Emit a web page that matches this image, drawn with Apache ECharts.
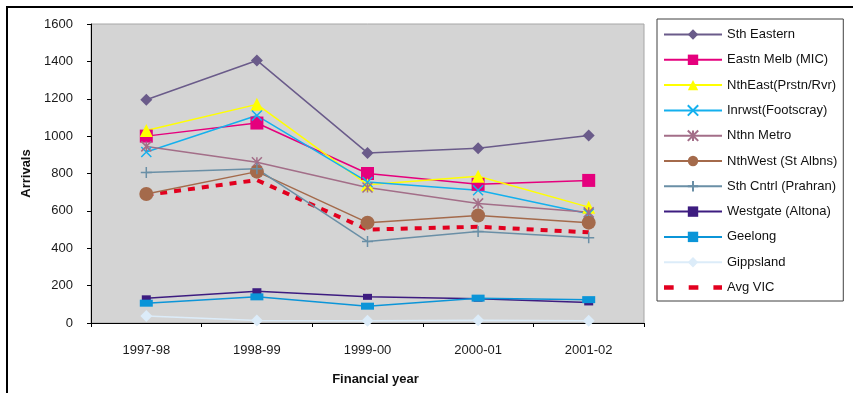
<!DOCTYPE html>
<html>
<head>
<meta charset="utf-8">
<script src="https://cdn.jsdelivr.net/npm/echarts@6/dist/echarts.min.js"></script>
<style>
  html, body { margin: 0; padding: 0; background: #fff; }
  #chart { width: 853px; height: 393px; }
</style>
</head>
<body>
<div id="chart"></div>
<script>
// Arrivals by region per financial year
const years = ['1997-98', '1998-99', '1999-00', '2000-01', '2001-02'];
const yTicks = { min: 0, max: 1600, step: 200 };

const sthEastern   = [1195, 1405, 910, 935, 1003];
const eastnMelb    = [1000, 1070, 800, 742, 763];
const nthEast      = [1030, 1170, 740, 785, 620];
const inrwst       = [915, 1110, 755, 710, 585];
const nthnMetro    = [945, 860, 725, 640, 592];
const nthWest      = [690, 810, 537, 575, 537];
const sthCntrl     = [805, 825, 436, 490, 456];
const westgate     = [132, 170, 140, 130, 110];
const geelong      = [106, 140, 90, 133, 125];
const gippsland    = [38, 13, 12, 15, 12];
const avgVic       = [685, 765, 500, 515, 485];

const FONT = 'Liberation Sans, Arial, sans-serif';

const X_PATH = 'path://M0,0L10,10M10,0L0,10';
const STAR_PATH = 'path://M0,0L10,10M10,0L0,10M5,0L5,10';
const PLUS_PATH = 'path://M5,0L5,10M0,5L10,5';
const SMALL_BAR = 'path://M0,0h9v6h-9z';
const WIDE_BAR = 'path://M0,0h13v7h-13z';
// three short dashes for the average line's legend key
const DASH_KEY = 'path://M0,0h9v4h-9zM23,0h9v4h-9zM46,0h8v4h-8z';

function line(name, data, color, symbol, size, extra) {
  return Object.assign({
    name: name,
    type: 'line',
    data: data,
    symbol: symbol,
    symbolSize: size,
    symbolKeepAspect: true,
    showSymbol: true,
    lineStyle: { color: color, width: 1.5 },
    itemStyle: { color: color, borderColor: color, borderWidth: 0, opacity: 1 },
    emphasis: { disabled: true },
    z: 3
  }, extra || {});
}

const strokeOnly = (color, w) => ({ itemStyle: { color: 'transparent', borderColor: color, borderWidth: w } });

const series = [
  line('Sth Eastern', sthEastern, '#6a5b8a', 'diamond', 12),
  line('Eastn Melb (MIC)', eastnMelb, '#e5007d', 'rect', 13),
  line('NthEast(Prstn/Rvr)', nthEast, '#ffff00', 'triangle', 13),
  line('Inrwst(Footscray)', inrwst, '#14b0ee', X_PATH, 10, strokeOnly('#14b0ee', 1.5)),
  line('Nthn Metro', nthnMetro, '#a36e88', STAR_PATH, 10, strokeOnly('#a36e88', 1.5)),
  line('NthWest (St Albns)', nthWest, '#a46a4b', 'circle', 14),
  line('Sth Cntrl (Prahran)', sthCntrl, '#6a8fa6', PLUS_PATH, 11, strokeOnly('#6a8fa6', 1.5)),
  line('Westgate (Altona)', westgate, '#3d1c80', SMALL_BAR, 9),
  line('Geelong', geelong, '#0b95d8', WIDE_BAR, 13),
  line('Gippsland', gippsland, '#dcecf9', 'diamond', 12),
  line('Avg VIC', avgVic, '#e2001f', 'none', 0, {
    lineStyle: { color: '#e2001f', width: 4, type: [7, 7] },
    z: 2
  })
];

const legendData = series.map(s => s.name === 'Avg VIC'
  ? { name: s.name, icon: DASH_KEY, itemStyle: { color: '#e2001f' } }
  : { name: s.name });

const chart = echarts.init(document.getElementById('chart'), null, { renderer: 'canvas' });
chart.setOption({
  animation: false,
  backgroundColor: '#ffffff',
  textStyle: { fontFamily: FONT },
  grid: {
    left: 91, right: 209, top: 24, bottom: 70,
    show: true,
    backgroundColor: '#d4d4d4',
    borderColor: '#a6a6a6',
    borderWidth: 1
  },
  xAxis: {
    type: 'category',
    data: years,
    boundaryGap: true,
    name: 'Financial year',
    nameLocation: 'middle',
    nameGap: 50,
    nameTextStyle: { fontFamily: FONT, fontSize: 13, fontWeight: 'bold', color: '#111', padding: [0, 0, 0, 16] },
    axisLine: { lineStyle: { color: '#000', width: 1 } },
    axisTick: { show: true, length: 4, alignWithLabel: false, lineStyle: { color: '#000' } },
    axisLabel: { fontFamily: FONT, fontSize: 13, color: '#1a1a1a', margin: 21 },
    splitLine: { show: false }
  },
  yAxis: {
    type: 'value',
    min: yTicks.min, max: yTicks.max, interval: yTicks.step,
    name: 'Arrivals',
    nameLocation: 'middle',
    nameGap: 53,
    nameTextStyle: { fontFamily: FONT, fontSize: 13, fontWeight: 'bold', color: '#111' },
    axisLine: { show: true, lineStyle: { color: '#000', width: 1 } },
    axisTick: { show: true, length: 4, lineStyle: { color: '#000' } },
    axisLabel: { fontFamily: FONT, fontSize: 13, color: '#1a1a1a', margin: 18, formatter: v => String(v) },
    splitLine: { show: false }
  },
  legend: {
    orient: 'vertical',
    left: 657, top: 19,
    padding: [9, 6, 7, 6],
    itemGap: 12.3,
    itemWidth: 58,
    itemHeight: 13,
    borderColor: '#404040',
    borderWidth: 1,
    backgroundColor: '#ffffff',
    textStyle: { fontFamily: FONT, fontSize: 13, color: '#111', padding: [0, 0, 0, 0] },
    data: legendData
  },
  graphic: [{
    type: 'rect',
    shape: { x: 7, y: 7, width: 900, height: 450 },
    style: { fill: 'none', stroke: '#000', lineWidth: 2 },
    silent: true,
    z: 100
  }],
  series: series
});
</script>
</body>
</html>
